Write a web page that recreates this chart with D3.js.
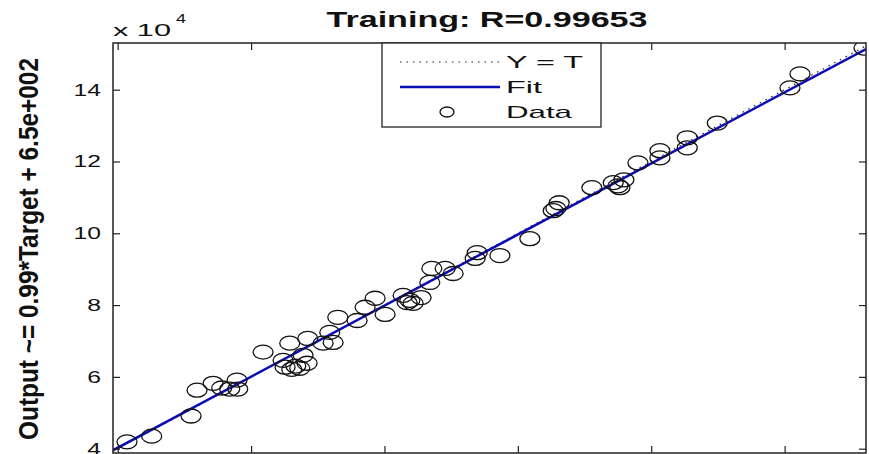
<!DOCTYPE html>
<html>
<head>
<meta charset="utf-8">
<script src="https://cdn.jsdelivr.net/npm/d3@7"></script>
<style>
  body { margin: 0; background: #fff; }
  text { font-family: "Liberation Sans", Arial, sans-serif; fill: #111; }
</style>
</head>
<body>
<script>
// values in units of 1e4
const targets = [4.14, 4.51, 5.10, 5.19, 5.43, 5.56, 5.68, 5.79, 5.80, 6.18,
  6.48, 6.51, 6.58, 6.61, 6.73, 6.67, 6.78, 6.85, 6.84, 7.08,
  7.18, 7.23, 7.30, 7.59, 7.71, 7.86, 8.01, 8.28, 8.34, 8.38,
  8.43, 8.55, 8.68, 8.71, 8.91, 9.03, 9.39, 9.36, 9.73, 10.18,
  10.53, 10.62, 10.57, 11.11, 11.43, 11.50, 11.59, 11.53, 11.80, 12.13,
  12.13, 12.54, 12.54, 12.99, 14.08, 14.23, 15.19];
const outputs = [4.19, 4.35, 4.91, 5.63, 5.82, 5.69, 5.66, 5.91, 5.66, 6.69,
  6.46, 6.27, 6.94, 6.21, 6.24, 6.30, 6.60, 7.07, 6.38, 6.94,
  7.24, 6.96, 7.66, 7.57, 7.94, 8.19, 7.74, 8.27, 8.07, 8.13,
  8.05, 8.21, 8.63, 9.02, 9.02, 8.88, 9.46, 9.30, 9.38, 9.85,
  10.63, 10.85, 10.69, 11.27, 11.41, 11.32, 11.49, 11.27, 11.96, 12.10,
  12.30, 12.38, 12.66, 13.07, 14.05, 14.44, 15.16];
const tickValues = [4, 6, 8, 10, 12, 14];
const limits = [3.93, 15.22];
const yLimits = [3.88, 15.3];
const fitSlope = 0.99, fitOffset = 0.065;
const legendItems = ["Y = T", "Fit", "Data"];

const width = 869, height = 454;
const pLeft = 113, pRight = 866, pTop = 43, pBottom = 453;

const svg = d3.select('body').append('svg')
    .attr('width', width)
    .attr('height', height);

const x = d3.scaleLinear().domain(limits).range([pLeft, pRight]);
const y = d3.scaleLinear().domain(yLimits).range([pBottom, pTop]);

// stretch text horizontally (the source image is wider than tall)
function stretch(sel, k) {
    sel.each(function() {
        const w = this.getComputedTextLength();
        d3.select(this).attr('textLength', w * k).attr('lengthAdjust', 'spacingAndGlyphs');
    });
}

svg.append('defs').append('clipPath').attr('id', 'plot')
    .append('rect').attr('x', pLeft).attr('y', pTop)
    .attr('width', pRight - pLeft).attr('height', pBottom - pTop);

const plot = svg.append('g').attr('clip-path', 'url(#plot)');

// Y = T
plot.append('line')
    .attr('x1', x(limits[0])).attr('y1', y(limits[0]))
    .attr('x2', x(limits[1])).attr('y2', y(limits[1]))
    .attr('stroke', '#222').attr('stroke-width', 1.2)
    .attr('stroke-dasharray', '1.5,5');

// fit line
plot.append('line')
    .attr('x1', x(limits[0])).attr('y1', y(fitSlope * limits[0] + fitOffset))
    .attr('x2', x(limits[1])).attr('y2', y(fitSlope * limits[1] + fitOffset))
    .attr('stroke', '#0c0cb4').attr('stroke-width', 2.5);

// data
plot.selectAll('ellipse.pt')
    .data(targets.map((t, i) => [t, outputs[i]]))
    .join('ellipse')
    .attr('class', 'pt')
    .attr('cx', d => x(d[0]))
    .attr('cy', d => y(d[1]))
    .attr('rx', 10).attr('ry', 7)
    .attr('fill', 'none')
    .attr('stroke', '#111').attr('stroke-width', 1.3);

// axes with inward ticks on all sides
function styleAxis(g) {
    g.select('.domain').remove();
    g.selectAll('line').attr('stroke', '#222').attr('stroke-width', 1.2);
}

svg.append('g')
    .attr('transform', 'translate(' + pLeft + ',0)')
    .call(d3.axisLeft(y).tickValues(tickValues).tickSize(-7).tickPadding(12))
    .call(styleAxis)
    .call(g => g.selectAll('text').attr('font-size', 17).attr('fill', '#111')
        .attr('font-family', '"Liberation Sans", Arial, sans-serif').call(stretch, 1.45));

svg.append('g')
    .attr('transform', 'translate(' + pRight + ',0)')
    .call(d3.axisRight(y).tickValues(tickValues).tickSize(-7).tickFormat(''))
    .call(styleAxis);

svg.append('g')
    .attr('transform', 'translate(0,' + pTop + ')')
    .call(d3.axisTop(x).tickValues(tickValues).tickSize(-7).tickFormat(''))
    .call(styleAxis);

svg.append('g')
    .attr('transform', 'translate(0,' + pBottom + ')')
    .call(d3.axisBottom(x).tickValues(tickValues).tickSize(-7).tickFormat(''))
    .call(styleAxis);

svg.append('rect')
    .attr('x', pLeft).attr('y', pTop)
    .attr('width', pRight - pLeft).attr('height', pBottom - pTop)
    .attr('fill', 'none').attr('stroke', '#222').attr('stroke-width', 1.5);

// legend
const lg = svg.append('g');
lg.append('rect')
    .attr('x', 382).attr('y', pTop).attr('width', 219).attr('height', 84)
    .attr('fill', '#fff').attr('stroke', '#222').attr('stroke-width', 1.3);
const rowY = [62, 87, 112];
lg.append('line').attr('x1', 400).attr('x2', 500).attr('y1', rowY[0]).attr('y2', rowY[0])
    .attr('stroke', '#222').attr('stroke-width', 1.2).attr('stroke-dasharray', '1.5,5');
lg.append('line').attr('x1', 400).attr('x2', 500).attr('y1', rowY[1]).attr('y2', rowY[1])
    .attr('stroke', '#0c0cb4').attr('stroke-width', 2.5);
lg.append('ellipse').attr('cx', 447).attr('cy', rowY[2]).attr('rx', 7).attr('ry', 5)
    .attr('fill', 'none').attr('stroke', '#111').attr('stroke-width', 1.3);
const legendWidths = [77, 36, 66];
lg.selectAll('text.lt')
    .data(legendItems)
    .join('text')
    .attr('class', 'lt')
    .attr('x', 506)
    .attr('y', (d, i) => rowY[i] + 6)
    .attr('font-size', 17)
    .attr('textLength', (d, i) => legendWidths[i])
    .attr('lengthAdjust', 'spacingAndGlyphs')
    .text(d => d);

// exponent label
svg.append('text').attr('x', 113).attr('y', 36).attr('font-size', 17)
    .attr('textLength', 58).attr('lengthAdjust', 'spacingAndGlyphs')
    .text('x 10');
svg.append('text').attr('x', 176).attr('y', 23).attr('font-size', 13)
    .attr('textLength', 10).attr('lengthAdjust', 'spacingAndGlyphs')
    .text('4');

// title
svg.append('text')
    .attr('x', 487).attr('y', 27)
    .attr('text-anchor', 'middle')
    .attr('font-size', 22).attr('font-weight', 'bold')
    .attr('textLength', 321).attr('lengthAdjust', 'spacingAndGlyphs')
    .text('Training: R=0.99653');

// y label
svg.append('text')
    .attr('transform', 'translate(38,249) rotate(-90)')
    .attr('text-anchor', 'middle')
    .attr('font-size', 27).attr('font-weight', 'bold')
    .attr('textLength', 382).attr('lengthAdjust', 'spacingAndGlyphs')
    .text('Output ~= 0.99*Target + 6.5e+002');
</script>
</body>
</html>
